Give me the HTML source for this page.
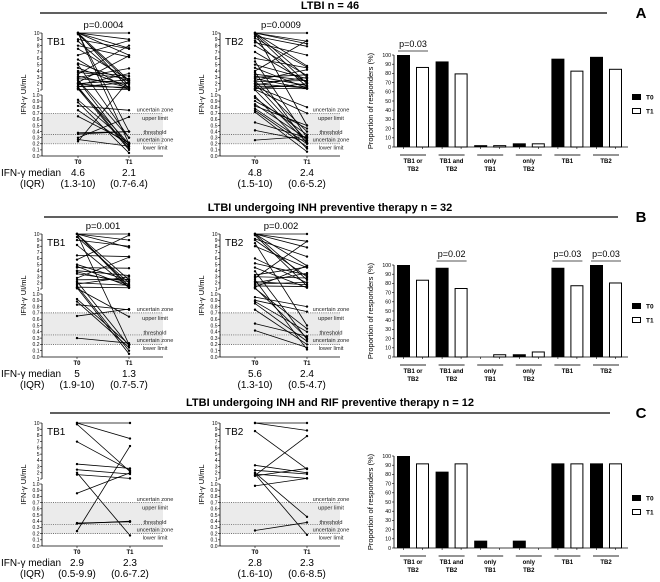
<!DOCTYPE html>
<html><head><meta charset="utf-8">
<style>
html,body{margin:0;padding:0;background:#fff;}
svg{display:block;font-family:"Liberation Sans",Arial,sans-serif;}
</style></head>
<body>
<svg id="fig" width="660" height="582" viewBox="0 0 660 582" xmlns="http://www.w3.org/2000/svg">
<g id="root"></g>
</svg>
<script>
// ---------- DATA ----------
const barCategories = [["TB1 or","TB2"],["TB1 and","TB2"],["only","TB1"],["only","TB2"],["TB1",""],["TB2",""]];
const barTicks = [0,10,20,30,40,50,60,70,80,90,100];
const aT0 = [100,93,2,4,96,98];
const aT1 = [87,80,2,4,83,85];
const bT0 = [100,97,0,3,97,100];
const bT1 = [84,75,3,6,78,81];
const cT0 = [100,83,8,8,92,92];
const cT1 = [92,92,0,0,92,92];
const aBarP = [[0,"p=0.03"]];
const bBarP = [[1,"p=0.02"],[4,"p=0.03"],[5,"p=0.03"]];
const cBarP = [];
const upperTicks = [1,2,3,4,5,6,7,8,9,10];
const lowerTicks = [0,0.1,0.2,0.3,0.4,0.5,0.6,0.7,0.8,0.9,1.0];
// paired values [T0, T1] (IU/mL)
const aTB1 = [[10,10],[10,9],[10,7.6],[10,6.5],[10,2.5],[10,1.2],[10,0.4],[10,0.2],[9.8,2.2],[9,7.5],[8.7,1.8],[8,6.2],[7.5,2.6],[6.5,8.8],[5.8,1],[5.2,2.4],[5,0.3],[4.5,1.5],[4,3.2],[3.8,2.8],[3.5,8],[3.2,1.4],[3,4.4],[2.8,2],[2.5,0.15],[2.2,6.4],[2,2.6],[2,1.2],[1.8,3.6],[1.6,1.4],[1.5,2.2],[1.3,0.2],[1.2,0.1],[1.1,1.1],[0.92,0.2],[0.88,0.05],[0.82,0.75],[0.75,0.18],[0.65,0.22],[0.38,0.4],[0.36,0.4],[0.3,0.64],[0.27,0.16],[0.24,2.5],[1.5,0.12],[2.6,0.3]];
const aTB2 = [[10,10],[10,8.7],[10,8.3],[10,4.8],[10,3],[10,0.5],[9.8,2],[9.5,7.9],[9.2,4.6],[8.8,1.5],[8.5,6.5],[8,3.3],[7,2.2],[6,4.5],[5.5,0.3],[5,2.8],[4.5,1.3],[4,8.8],[3.5,2.5],[3.2,1.7],[3,3.4],[2.8,1.2],[2.5,4.2],[2.3,2.5],[2,1.3],[2,0.25],[1.8,3],[1.6,1.5],[1.5,0.8],[1.3,1.2],[1.2,2],[1,0.22],[0.98,0.12],[0.95,0.35],[0.9,0.45],[0.85,0.28],[0.82,0.5],[0.78,0.2],[0.75,0.15],[0.72,0.07],[0.55,0.3],[0.42,0.25],[0.26,0.32],[1.1,0.7],[2.4,0.4],[3.8,0.2]];
const bTB1 = [[10,10],[10,9],[10,7.8],[10,2.5],[10,1.5],[10,1.2],[10,0.2],[9.5,2],[9,8],[8.2,1.2],[6.5,6.3],[5.8,9.8],[5,2.4],[4.7,1.4],[4.5,4.4],[4,3.2],[3.8,1.8],[3.5,2.2],[2.8,6.2],[2.5,2.6],[2,1.6],[1.8,3],[1.5,0.1],[1.3,1.2],[1.2,0.05],[0.92,0.2],[0.88,0.15],[0.83,0.75],[0.65,0.76],[0.3,0.22],[1.1,0.64],[2.2,0.18]];
const bTB2 = [[10,10],[10,8.8],[10,7.8],[10,4.8],[10,2.5],[9.8,1.5],[9.2,6.3],[9,3],[8.5,0.5],[8,4.5],[6,2],[5.2,3.3],[4.5,1.2],[3.3,4.6],[3,2.8],[2.8,8.8],[2.2,1.7],[2,3.6],[1.8,2.1],[1.5,1.4],[1.3,4.8],[1.2,0.3],[0.95,0.8],[0.9,0.72],[0.88,0.4],[0.85,0.25],[0.75,0.2],[0.53,0.33],[0.42,0.15],[1.1,0.45],[2.5,0.12],[3.9,0.28]];
const cTB1 = [[10,10],[10,7.5],[9.8,2.2],[7,2.4],[3.4,2.7],[2.5,1.8],[1.7,1.1],[0.85,2.0],[0.36,0.4],[0.37,0.39],[0.24,6.3],[2,0.17]];
const cTB2 = [[10,10],[10,8.8],[8.7,2.6],[3.2,2],[2.4,1.8],[1.8,1.1],[1.6,7.9],[1.5,2.7],[0.97,1.1],[2,0.47],[1.8,0.18],[0.25,0.38]];

// ---------- HELPERS ----------
const NS="http://www.w3.org/2000/svg";
const root=document.getElementById('root');
function mk(tag,attrs,parent,txt){const e=document.createElementNS(NS,tag);for(const k in attrs)e.setAttribute(k,attrs[k]);if(txt!==undefined)e.textContent=txt;(parent||root).appendChild(e);return e;}

function panelHeader(title,letter,ty,ry,rx1,rx2){
  const t=mk('text',{x:330,y:ty,'text-anchor':'middle','font-size':'11','font-weight':'bold'},root,title);
  
  
  const r=mk('line',{x1:rx1,x2:rx2,y1:ry,y2:ry,stroke:'#000','stroke-width':1.2});
  
  
  const l=mk('text',{x:641,y:ry+5,'text-anchor':'middle','font-size':'15','font-weight':'bold'},root,letter);
  
  
}

function paired(cfg){
  const g=mk('g',{});
  
  
  const {ax,x0,x1,xe,top,u1,l1,bot}=cfg;
  const yU=v=>top+(10-v)/9*(u1-top);
  const yL=v=>bot-v*(bot-l1);
  const yv=v=>v>=1?yU(v):yL(v);
  // band
  mk('rect',{x:ax,y:yL(0.7),width:xe-ax,height:yL(0.2)-yL(0.7),fill:'#ebebeb'},g);
  [0.7,0.35,0.2].forEach(v=>{const d=mk('line',{x1:ax,x2:xe,y1:yL(v),y2:yL(v),stroke:'#444','stroke-width':0.7,'stroke-dasharray':'1,1.2'},g);
    
    });
  const zx=cfg.zx;
  [["uncertain zone",0.76],["upper limit",0.62],["threshold",0.39],["uncertain zone",0.27],["lower limit",0.14]].forEach(([s,v])=>{
    const t=mk('text',{x:zx,y:yL(v)+2,'text-anchor':'middle','font-size':'5.6',fill:'#222'},g,s);
    
    });
  // axes
  mk('line',{x1:ax,x2:ax,y1:top,y2:u1,stroke:'#000','stroke-width':0.8},g);
  mk('line',{x1:ax,x2:ax,y1:l1,y2:bot,stroke:'#000','stroke-width':0.8},g);
  mk('line',{x1:ax,x2:xe,y1:bot,y2:bot,stroke:'#000','stroke-width':0.8},g);
  upperTicks.forEach(v=>{mk('line',{x1:ax-2,x2:ax,y1:yU(v),y2:yU(v),stroke:'#000','stroke-width':0.6},g);
    mk('text',{x:ax-2.5,y:yU(v)+1.8,'text-anchor':'end','font-size':'5'},g,String(v));});
  lowerTicks.forEach(v=>{mk('line',{x1:ax-2,x2:ax,y1:yL(v),y2:yL(v),stroke:'#000','stroke-width':0.6},g);
    mk('text',{x:ax-2.5,y:yL(v)+1.8,'text-anchor':'end','font-size':'5'},g,v.toFixed(1));});
  [x0,x1].forEach(x=>mk('line',{x1:x,x2:x,y1:bot,y2:bot+2,stroke:'#000','stroke-width':0.6},g));
  const tl0=mk('text',{x:x0,y:bot+8,'text-anchor':'middle','font-size':'6','font-weight':'bold'},g,'T0');
  
  
  const tl1=mk('text',{x:x1,y:bot+8,'text-anchor':'middle','font-size':'6','font-weight':'bold'},g,'T1');
  
  
  // y label
  const yl=mk('text',{x:0,y:0,'text-anchor':'middle','font-size':'7.5',transform:`translate(${cfg.ylx},${(top+bot)/2}) rotate(-90)`},g,'IFN-γ  UI/mL');
  
  
  const nm=mk('text',{x:cfg.tbx,y:top+12,'font-size':'10'},g,cfg.tb);
  
  
  if(cfg.p){const p=mk('text',{x:(x0+x1)/2,y:top-5,'text-anchor':'middle','font-size':'9.5'},g,cfg.p);
    
    }
  // lines
  cfg.data.forEach(([a,b])=>{
    const ln=mk('line',{x1:x0,y1:yv(a),x2:x1,y2:yv(b),stroke:'#000','stroke-width':0.8},g);
    
    
    mk('circle',{cx:x0,cy:yv(a),r:1.2,fill:'#000'},g);
    mk('circle',{cx:x1,cy:yv(b),r:1.2,fill:'#000'},g);
  });
  // medians
  const m0=mk('text',{x:x0,y:bot+20,'text-anchor':'middle','font-size':'10'},g,cfg.med[0]);
  
  
  const m1=mk('text',{x:x1,y:bot+20,'text-anchor':'middle','font-size':'10'},g,cfg.med[1]);
  
  
  const q0=mk('text',{x:x0,y:bot+31,'text-anchor':'middle','font-size':'10'},g,cfg.iqr[0]);
  
  
  const q1=mk('text',{x:x1,y:bot+31,'text-anchor':'middle','font-size':'10'},g,cfg.iqr[1]);
  
  
}

function rowLabels(bot){
  const a=mk('text',{x:1,y:bot+20,'font-size':'10'},root,'IFN-γ median');
  
  
  const b=mk('text',{x:20,y:bot+31,'font-size':'10'},root,'(IQR)');
  
  
}

function bars(cfg){
  const g=mk('g',{});
  
  
  const ax=394, xe=628, {y100,y0}=cfg;
  const yS=v=>y0-v/100*(y0-y100);
  const gx=i=>397+i*38.6;
  const bw=13, off=19;
  mk('line',{x1:ax,x2:ax,y1:y100,y2:y0,stroke:'#000','stroke-width':0.8},g);
  mk('line',{x1:ax,x2:xe,y1:y0,y2:y0,stroke:'#000','stroke-width':0.8},g);
  barTicks.forEach(v=>{mk('line',{x1:ax-2,x2:ax,y1:yS(v),y2:yS(v),stroke:'#000','stroke-width':0.6},g);
    mk('text',{x:ax-3,y:yS(v)+1.8,'text-anchor':'end','font-size':'5.2'},g,String(v));});
  const yl=mk('text',{x:0,y:0,'text-anchor':'middle','font-size':'7.5',transform:`translate(${ax-21},${(y100+y0)/2}) rotate(-90)`},g,'Proportion of responders (%)');
  
  
  barCategories.forEach((c,i)=>{
    const x=gx(i);
    const b0=mk('rect',{x:x,y:yS(cfg.t0[i]),width:bw,height:y0-yS(cfg.t0[i]),fill:'#000'},g);
    
    
    const b1=mk('rect',{x:x+off+0.5,y:yS(cfg.t1[i])+0.5,width:bw-1,height:Math.max(0,y0-yS(cfg.t1[i])-0.5),fill:'#fff',stroke:'#000','stroke-width':1},g);
    
    
    [x+bw/2,x+off+bw/2].forEach(tx=>mk('line',{x1:tx,x2:tx,y1:y0,y2:y0+2,stroke:'#000','stroke-width':0.6},g));
    const cx=x+(off+bw)/2;
    mk('line',{x1:cx-13,x2:cx+13,y1:y0+8,y2:y0+8,stroke:'#555','stroke-width':1.2},g);
    const t1=mk('text',{x:cx,y:y0+16,'text-anchor':'middle','font-size':'6','font-weight':'bold'},g,c[0]);
    
    
    if(c[1]){mk('text',{x:cx,y:y0+24,'text-anchor':'middle','font-size':'6','font-weight':'bold'},g,c[1]);}
  });
  cfg.p.forEach(([i,s])=>{
    const x=gx(i);
    const ly=y100-4;
    mk('line',{x1:x+1,x2:x+off+bw-1,y1:ly,y2:ly,stroke:'#555','stroke-width':0.9},g);
    const pt=mk('text',{x:x+(off+bw)/2,y:ly-4,'text-anchor':'middle','font-size':'9'},g,s);
    
    
  });
  // legend
  const lg=mk('g',{},g);
  
  
  mk('rect',{x:632,y:cfg.ly-4,width:9,height:6,fill:'#000'},lg);
  mk('text',{x:646,y:cfg.ly+1.5,'font-size':'6.5','font-weight':'bold'},lg,'T0');
  mk('rect',{x:632.5,y:cfg.ly+10.5,width:8,height:5,fill:'#fff',stroke:'#000','stroke-width':1},lg);
  mk('text',{x:646,y:cfg.ly+15.5,'font-size':'6.5','font-weight':'bold'},lg,'T1');
}

// ---------- PANEL A ----------
panelHeader('LTBI n = 46','A',9,13,40,607);
paired({name:'panel-a-tb1',ax:42,x0:78,x1:129,xe:163,top:33,u1:90,l1:95,bot:156,zx:155,ylx:26,tbx:47,tb:'TB1',p:'p=0.0004',data:aTB1,med:['4.6','2.1'],iqr:['(1.3-10)','(0.7-6.4)']});
paired({name:'panel-a-tb2',ax:220,x0:255,x1:307,xe:340,top:33,u1:90,l1:95,bot:156,zx:331,ylx:204,tbx:225,tb:'TB2',p:'p=0.0009',data:aTB2,med:['4.8','2.4'],iqr:['(1.5-10)','(0.6-5.2)']});
rowLabels(156);
bars({name:'panel-a-bars',y100:55,y0:147,t0:aT0,t1:aT1,p:aBarP,ly:98});

// ---------- PANEL B ----------
panelHeader('LTBI undergoing INH preventive therapy n = 32','B',211,217,44,618);
paired({name:'panel-b-tb1',ax:42,x0:77,x1:129,xe:163,top:234,u1:289,l1:294,bot:357,zx:155,ylx:26,tbx:47,tb:'TB1',p:'p=0.001',data:bTB1,med:['5','1.3'],iqr:['(1.9-10)','(0.7-5.7)']});
paired({name:'panel-b-tb2',ax:220,x0:255,x1:307,xe:340,top:234,u1:289,l1:294,bot:357,zx:331,ylx:204,tbx:225,tb:'TB2',p:'p=0.002',data:bTB2,med:['5.6','2.4'],iqr:['(1.3-10)','(0.5-4.7)']});
rowLabels(357);
bars({name:'panel-b-bars',y100:265,y0:357,t0:bT0,t1:bT1,p:bBarP,ly:307});

// ---------- PANEL C ----------
panelHeader('LTBI undergoing INH and RIF preventive therapy n = 12','C',406,413,50,610);
paired({name:'panel-c-tb1',ax:42,x0:77,x1:130,xe:163,top:423,u1:479,l1:484,bot:546,zx:155,ylx:26,tbx:47,tb:'TB1',p:'',data:cTB1,med:['2.9','2.3'],iqr:['(0.5-9.9)','(0.6-7.2)']});
paired({name:'panel-c-tb2',ax:220,x0:255,x1:307,xe:340,top:423,u1:479,l1:484,bot:546,zx:331,ylx:204,tbx:225,tb:'TB2',p:'',data:cTB2,med:['2.8','2.3'],iqr:['(1.6-10)','(0.6-8.5)']});
rowLabels(546);
bars({name:'panel-c-bars',y100:456,y0:548,t0:cT0,t1:cT1,p:cBarP,ly:499});
</script>
</body></html>
